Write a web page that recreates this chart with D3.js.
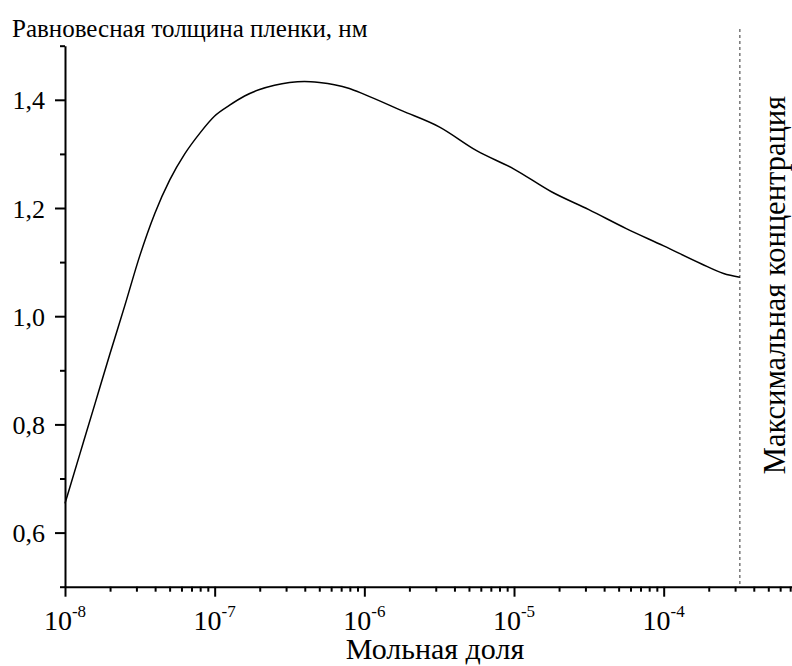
<!DOCTYPE html>
<html>
<head>
<meta charset="utf-8">
<script src="https://cdn.jsdelivr.net/npm/d3@7"></script>
<style>
  html, body { margin: 0; padding: 0; background: #fff; }
  svg { display: block; }
</style>
</head>
<body>
<svg id="chart" width="792" height="666"></svg>
<script>
// ---- data ----
const moleFraction = [1e-8, 1.259e-8, 1.585e-8, 1.995e-8, 2.512e-8, 3.162e-8, 3.981e-8, 5.012e-8, 6.310e-8,
  7.943e-8, 1e-7, 1.259e-7, 1.585e-7, 1.995e-7, 2.512e-7, 3.162e-7, 3.981e-7, 5.012e-7, 6.310e-7, 7.943e-7,
  1e-6, 1.778e-6, 3.162e-6, 5.623e-6, 1e-5, 1.778e-5, 3.162e-5, 5.623e-5, 1e-4, 1.778e-4, 2.512e-4, 3.228e-4];
const thickness = [0.654, 0.746, 0.838, 0.930, 1.020, 1.112, 1.190, 1.252, 1.300,
  1.338, 1.370, 1.390, 1.407, 1.419, 1.427, 1.432, 1.434, 1.432, 1.428, 1.421,
  1.410, 1.380, 1.350, 1.306, 1.272, 1.230, 1.197, 1.162, 1.130, 1.097, 1.079, 1.072];
const maxConcentration = 3.228e-4;
const xMajorTicks = [1e-8, 1e-7, 1e-6, 1e-5, 1e-4];
const xTickExponents = ["-8", "-7", "-6", "-5", "-4"];
const yMajorTicks = [0.6, 0.8, 1.0, 1.2, 1.4];
const yTickLabels = ["0,6", "0,8", "1,0", "1,2", "1,4"];
const yMinorTicks = [0.5, 0.7, 0.9, 1.1, 1.3, 1.5];
const yTitle = "Равновесная толщина пленки, нм";
const xTitle = "Мольная доля";
const markerLabel = "Максимальная концентрация";

// ---- layout ----
const FONT = "'Liberation Serif', Tinos, 'Times New Roman', Times, 'DejaVu Serif', serif";
const svg = d3.select("#chart");
const mLeft = 65, mRight = 792, mTop = 45.7, mBottom = 586.7;

const x = d3.scaleLog().domain([1e-8, 7.2e-4]).range([mLeft, mRight]);
const y = d3.scaleLinear().domain([0.5, 1.5]).range([mBottom, mTop]);

function label(sel) {
  return sel.attr("font-family", FONT).style("font-family", FONT).attr("fill", "#000");
}

// minor x ticks: 2..9 × 10^k within domain
const xMinorTicks = [];
for (let k = -8; k <= -4; k++) {
  for (let m = 2; m <= 9; m++) {
    const v = m * Math.pow(10, k);
    if (v <= x.domain()[1]) xMinorTicks.push(v);
  }
}

// x axis
const gx = svg.append("g").attr("transform", `translate(0,${mBottom})`);
gx.call(d3.axisBottom(x).tickValues(xMajorTicks).tickSize(10).tickSizeOuter(0).tickFormat(""));
gx.append("g").call(d3.axisBottom(x).tickValues(xMinorTicks).tickSize(5).tickSizeOuter(0).tickFormat(""))
  .select(".domain").remove();
gx.selectAll(".domain").attr("stroke", "#000").attr("stroke-width", 2);
gx.selectAll(".tick line").attr("stroke", "#000").attr("stroke-width", 2);

// x tick labels with superscripts
xMajorTicks.forEach((v, i) => {
  const t = label(svg.append("text"))
    .attr("x", x(v)).attr("y", 630)
    .attr("text-anchor", "middle")
    .style("font-size", "28px");
  t.append("tspan").text("10");
  t.append("tspan").attr("dy", -13).style("font-size", "17px").text(xTickExponents[i]);
});

// y axis
const gy = svg.append("g").attr("transform", `translate(${mLeft},0)`);
gy.call(d3.axisLeft(y).tickValues(yMajorTicks).tickSize(10).tickSizeOuter(0).tickFormat(""));
gy.append("g").call(d3.axisLeft(y).tickValues(yMinorTicks).tickSize(5).tickSizeOuter(0).tickFormat(""))
  .select(".domain").remove();
gy.selectAll(".domain").attr("stroke", "#000").attr("stroke-width", 2);
gy.selectAll(".tick line").attr("stroke", "#000").attr("stroke-width", 2);

yMajorTicks.forEach((v, i) => {
  label(svg.append("text"))
    .attr("x", 45).attr("y", y(v) + 9.5)
    .attr("text-anchor", "end")
    .style("font-size", "26px")
    .text(yTickLabels[i]);
});

// dashed marker line
svg.append("line")
  .attr("x1", x(maxConcentration)).attr("x2", x(maxConcentration))
  .attr("y1", 29).attr("y2", mBottom)
  .attr("stroke", "#555").attr("stroke-width", 1.2)
  .attr("stroke-dasharray", "3,3");

// curve
const pts = moleFraction.map((m, i) => [m, thickness[i]]);
svg.append("path")
  .datum(pts)
  .attr("fill", "none")
  .attr("stroke", "#000")
  .attr("stroke-width", 1.5)
  .attr("d", d3.line().x(d => x(d[0])).y(d => y(d[1])).curve(d3.curveMonotoneX));

// titles
label(svg.append("text")).attr("x", 12).attr("y", 37).style("font-size", "25px").text(yTitle);
label(svg.append("text")).attr("x", 435).attr("y", 659).attr("text-anchor", "middle").style("font-size", "30px").text(xTitle);
label(svg.append("text"))
  .attr("transform", "translate(785,285) rotate(-90)")
  .attr("text-anchor", "middle")
  .style("font-size", "30.5px")
  .text(markerLabel);
</script>
</body>
</html>
